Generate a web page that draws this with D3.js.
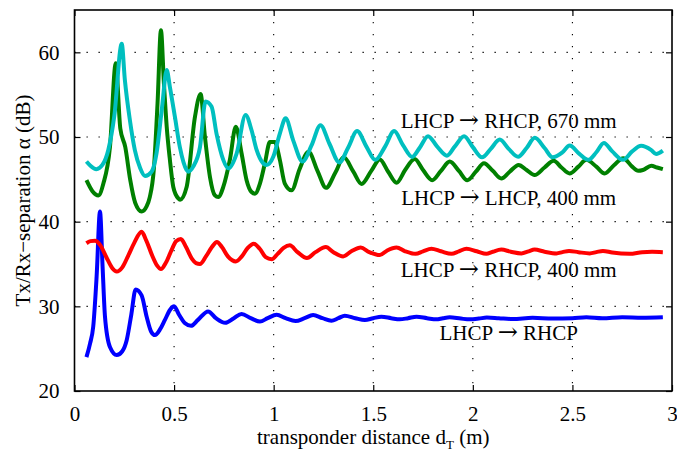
<!DOCTYPE html>
<html><head><meta charset="utf-8">
<script src="https://cdn.jsdelivr.net/npm/d3@7"></script>
<style>
body{margin:0;background:#fff;}
text{font-family:"Liberation Serif","Times New Roman",serif;fill:#000;}
</style>
</head><body>
<svg id="chart" width="677" height="451"></svg>
<script>
// ---------- data ----------
const xTicks = [0, 0.5, 1, 1.5, 2, 2.5, 3];
const xTickLabels = ["0", "0.5", "1", "1.5", "2", "2.5", "3"];
const yTicks = [20, 30, 40, 50, 60];
const yTickLabels = ["20", "30", "40", "50", "60"];

// LHCP -> RHCP (blue)
const blueX = [0.06,0.078,0.094,0.111,0.128,0.141,0.153,0.178,0.212,0.24,0.262,0.285,0.307,0.337,0.362,0.385,0.404,0.43,0.454,0.48,0.50,0.525,0.555,0.585,0.62,0.671,0.71,0.757,0.80,0.839,0.885,0.931,0.97,1.015,1.06,1.11,1.155,1.198,1.245,1.29,1.325,1.357,1.41,1.458,1.50,1.541,1.59,1.633,1.675,1.717,1.77,1.817,1.85,1.884,1.94,1.985,2.03,2.07,2.13,2.2,2.3,2.4,2.5,2.57,2.65,2.75,2.85,2.954];
const blueY = [24.0,25.6,27.6,33.5,41.2,34.7,28.8,25.2,24.25,24.7,26.0,29.0,32.0,31.3,28.8,27.0,26.6,27.3,28.4,29.6,30.0,29.0,28.0,27.7,28.4,29.4,28.6,28.05,28.6,29.1,28.6,28.2,28.6,29.0,28.6,28.26,28.6,28.97,28.6,28.3,28.6,28.9,28.6,28.38,28.6,28.77,28.6,28.46,28.6,28.77,28.6,28.46,28.6,28.7,28.55,28.46,28.55,28.68,28.6,28.5,28.65,28.55,28.6,28.72,28.6,28.72,28.65,28.7];

// LHCP -> LHCP, 400 mm (green)
const greenX = [0.06,0.09,0.12,0.145,0.178,0.207,0.23,0.255,0.28,0.305,0.337,0.362,0.378,0.398,0.417,0.434,0.449,0.463,0.479,0.496,0.521,0.53,0.563,0.605,0.633,0.655,0.68,0.705,0.722,0.747,0.78,0.81,0.839,0.864,0.889,0.906,0.931,0.956,0.981,1.006,1.031,1.056,1.09,1.13,1.175,1.22,1.263,1.31,1.352,1.40,1.441,1.49,1.533,1.575,1.617,1.66,1.708,1.75,1.796,1.84,1.884,1.93,1.972,2.015,2.056,2.10,2.143,2.185,2.23,2.27,2.31,2.36,2.406,2.445,2.486,2.53,2.57,2.62,2.662,2.71,2.755,2.80,2.83,2.854,2.896,2.925,2.954];
const greenY = [44.9,43.6,43.1,44.5,48.8,58.7,51.0,48.8,44.9,42.2,41.2,41.8,42.9,46.1,54.0,62.6,56.3,51.2,47.3,44.1,42.75,42.6,44.1,52.4,55.07,50.0,45.3,43.1,42.9,44.1,47.3,51.2,48.05,44.9,43.5,43.3,44.5,46.9,49.4,49.4,47.3,44.5,43.7,46.2,48.25,46.0,44.0,45.8,47.6,45.9,44.45,46.0,47.35,45.9,44.6,46.1,47.4,46.1,44.9,46.0,47.1,46.0,44.9,45.9,46.9,46.0,45.1,45.9,46.7,46.1,45.5,46.4,47.2,46.4,45.7,46.5,47.3,46.5,45.7,46.7,47.5,46.5,46.0,46.1,46.6,46.4,46.2];

// LHCP -> RHCP, 400 mm (red)
const redX = [0.06,0.08,0.103,0.13,0.16,0.19,0.212,0.24,0.27,0.30,0.337,0.36,0.39,0.415,0.434,0.46,0.49,0.51,0.534,0.56,0.59,0.61,0.63,0.66,0.69,0.715,0.74,0.77,0.81,0.84,0.87,0.90,0.93,0.96,0.99,1.02,1.05,1.081,1.12,1.167,1.21,1.262,1.30,1.349,1.39,1.437,1.48,1.533,1.57,1.617,1.66,1.713,1.75,1.792,1.84,1.893,1.93,1.968,2.02,2.068,2.10,2.143,2.19,2.244,2.28,2.31,2.36,2.42,2.45,2.483,2.53,2.587,2.62,2.653,2.70,2.787,2.85,2.90,2.954];
const redY = [37.45,37.7,37.75,37.2,35.8,34.5,34.1,34.6,36.0,37.5,38.8,37.8,36.0,34.8,34.4,35.2,36.8,37.7,37.95,37.0,35.6,35.1,35.0,35.9,37.0,37.6,37.0,35.9,35.3,35.9,36.9,37.4,36.8,35.8,35.55,36.2,36.9,37.2,36.4,35.7,36.4,37.0,36.4,35.9,36.5,36.95,36.4,36.05,36.6,36.95,36.5,36.2,36.5,36.8,36.5,36.2,36.5,36.8,36.5,36.2,36.45,36.7,36.45,36.25,36.5,36.7,36.45,36.25,36.4,36.55,36.4,36.25,36.4,36.55,36.35,36.2,36.4,36.45,36.4];

// LHCP -> RHCP, 670 mm (cyan)
const cyanX = [0.06,0.08,0.11,0.14,0.17,0.20,0.237,0.253,0.278,0.303,0.33,0.354,0.387,0.412,0.44,0.463,0.479,0.504,0.529,0.563,0.571,0.596,0.63,0.658,0.688,0.713,0.747,0.772,0.814,0.859,0.889,0.914,0.947,0.964,0.998,1.031,1.06,1.098,1.145,1.19,1.235,1.28,1.33,1.375,1.419,1.465,1.51,1.56,1.605,1.65,1.695,1.735,1.775,1.82,1.87,1.91,1.956,2.00,2.046,2.09,2.135,2.18,2.227,2.27,2.311,2.36,2.40,2.45,2.486,2.535,2.58,2.62,2.658,2.70,2.754,2.80,2.845,2.896,2.92,2.954];
const cyanY = [47.1,46.6,46.2,46.7,48.5,52.5,61.0,56.7,52.0,48.45,46.3,45.4,45.9,48.1,53.6,57.9,55.9,52.4,48.8,46.1,45.9,46.5,48.8,54.2,53.6,50.4,47.3,46.3,48.05,52.6,50.8,48.5,46.9,46.7,47.66,50.4,52.2,49.6,47.1,49.0,51.4,49.2,47.0,48.8,50.7,48.9,47.3,48.9,50.7,49.0,47.65,48.8,50.1,48.9,47.8,48.9,50.1,48.8,47.6,48.6,49.7,48.6,47.66,48.7,49.9,48.7,47.6,48.2,49.0,48.0,47.3,48.2,49.3,48.3,47.3,48.3,48.96,48.45,48.0,48.4];

const seriesX = [blueX, greenX, redX, cyanX];
const seriesY = [blueY, greenY, redY, cyanY];
const seriesColors = ["#0000ff", "#008000", "#ff0000", "#00bfbf"];

const labelFrom = ["LHCP", "LHCP", "LHCP", "LHCP"];
const labelTo = ["RHCP, 670 mm", "LHCP, 400 mm", "RHCP, 400 mm", "RHCP"];
const labelX = [2.18, 2.18, 2.18, 2.18];
const labelY = [51.05, 41.96, 33.5, 26.0];

// ---------- layout ----------
const svg = d3.select("#chart");
const L = 74.5, R = 672, T = 10, B = 391;
const x = d3.scaleLinear().domain([0, 3]).range([L, R]);
const y = d3.scaleLinear().domain([20, 65]).range([B, T]);
const FS = 21;

// grid
const grid = svg.append("g").attr("stroke", "#000").attr("stroke-width", 1.1).attr("stroke-dasharray", "1.3,10.7");
xTicks.filter(v => v > 0 && v < 3).forEach(v => {
  grid.append("line").attr("x1", x(v)).attr("x2", x(v)).attr("y1", y(65)).attr("y2", y(20));
});
yTicks.filter(v => v > 20 && v < 65).forEach(v => {
  grid.append("line").attr("x1", x(0)).attr("x2", x(3)).attr("y1", y(v)).attr("y2", y(v));
});

// lines
const lineGen = d3.line().x(d => x(d[0])).y(d => y(d[1])).curve(d3.curveMonotoneX);
seriesX.forEach((xs, i) => {
  const pts = xs.map((v, j) => [v, seriesY[i][j]]);
  svg.append("path").datum(pts).attr("d", lineGen)
    .attr("fill", "none").attr("stroke", seriesColors[i])
    .attr("stroke-width", 4).attr("stroke-linejoin", "round").attr("stroke-linecap", "butt");
});

// axes with inward ticks
const tl = 6;
const xAxisB = d3.axisBottom(x).tickValues(xTicks).tickFormat((d, i) => xTickLabels[i]).tickSizeInner(-tl).tickSizeOuter(0).tickPadding(tl + 9);
const gxb = svg.append("g").attr("transform", `translate(0,${B})`).call(xAxisB);
const xAxisT = d3.axisTop(x).tickValues(xTicks).tickFormat("").tickSizeInner(-tl).tickSizeOuter(0);
const gxt = svg.append("g").attr("transform", `translate(0,${T})`).call(xAxisT);
const yAxisL = d3.axisLeft(y).tickValues(yTicks).tickFormat((d, i) => yTickLabels[i]).tickSizeInner(-tl).tickSizeOuter(0).tickPadding(tl + 9);
const gyl = svg.append("g").attr("transform", `translate(${L},0)`).call(yAxisL);
const yAxisR = d3.axisRight(y).tickValues(yTicks).tickFormat("").tickSizeInner(-tl).tickSizeOuter(0);
const gyr = svg.append("g").attr("transform", `translate(${R},0)`).call(yAxisR);
[gxb, gxt, gyl, gyr].forEach(g => {
  g.select(".domain").remove();
  g.selectAll(".tick line").attr("stroke", "#000").attr("stroke-width", 1.2);
  g.selectAll("text").attr("font-size", FS).attr("font-family", "Liberation Serif, Times New Roman, serif").attr("fill", "#000");
});

// frame
svg.append("rect").attr("x", L).attr("y", T).attr("width", R - L).attr("height", B - T)
  .attr("fill", "none").attr("stroke", "#000").attr("stroke-width", 1.6);

// series labels
labelFrom.forEach((t, i) => {
  const tx = svg.append("text").attr("x", x(labelX[i])).attr("y", y(labelY[i]))
    .attr("text-anchor", "middle").attr("font-size", FS);
  tx.append("tspan").text(t + " ");
  tx.append("tspan").attr("font-family", "DejaVu Serif").attr("font-size", 24).text("\u2192");
  tx.append("tspan").text(" " + labelTo[i]);
});

// axis titles
const xt = svg.append("text").attr("x", x(1.5)).attr("y", 444).attr("text-anchor", "middle").attr("font-size", FS);
xt.append("tspan").text("transponder distance d");
xt.append("tspan").attr("font-size", 13).attr("dy", 5).text("T");
xt.append("tspan").attr("dy", -5).text(" (m)");

svg.append("text").attr("transform", `translate(30,${(T + B) / 2}) rotate(-90)`)
  .attr("text-anchor", "middle").attr("font-size", FS).text("Tx/Rx\u2212separation \u03b1 (dB)");
</script>
</body></html>
